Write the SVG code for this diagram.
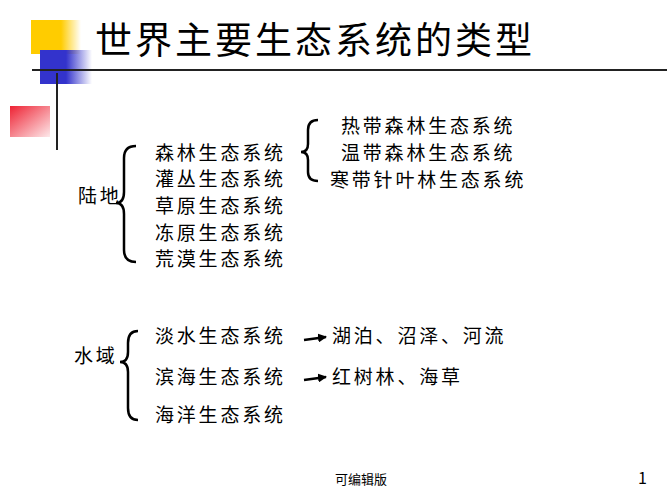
<svg xmlns="http://www.w3.org/2000/svg" width="667" height="500" viewBox="0 0 667 500">
<style>
text{font-family:"Noto Sans CJK SC","Liberation Serif",serif;fill:#000}
.t{font-size:19px;letter-spacing:2.8px}
.b{fill:none;stroke:#000;stroke-width:2.5}
</style>
<defs>
<linearGradient id="gy"><stop offset="0.6" stop-color="#ffcc00"/><stop offset="1" stop-color="#ffcc00" stop-opacity="0"/></linearGradient>
<linearGradient id="gb"><stop offset="0.5" stop-color="#3333cc"/><stop offset="1" stop-color="#3333cc" stop-opacity="0"/></linearGradient>
<linearGradient id="gr" x1="0" y1="0" x2="1" y2="1"><stop offset="0" stop-color="#ee2233"/><stop offset="1" stop-color="#ee2233" stop-opacity="0.1"/></linearGradient>
<marker id="ar" markerWidth="9" markerHeight="9" refX="8" refY="4.5" orient="auto" markerUnits="userSpaceOnUse"><path d="M0,0 L9,4.5 L0,9 Z" fill="#000"/></marker>
</defs>
<g id="deco">
<rect x="31" y="20" width="50" height="34" fill="url(#gy)"/>
<rect x="40" y="50" width="52" height="34" fill="url(#gb)"/>
<rect x="10" y="106" width="40" height="31" fill="url(#gr)"/>
<line x1="32" y1="70" x2="667" y2="70" stroke="#222" stroke-width="2"/>
<line x1="57" y1="73" x2="57" y2="150" stroke="#222" stroke-width="2"/>
</g>
<text x="95" y="54" font-size="37" letter-spacing="3">世界主要生态系统的类型</text>
<g id="land">
<text x="78" y="203" class="t" letter-spacing="1">陆地</text>
<path class="b" d="M136,146 Q124,146 124,158 L124,192 Q124,203 116,203 Q124,203 124,214 L124,250 Q124,262 136,262"/>
<text x="155" y="160" class="t">森林生态系统</text>
<text x="155" y="186" class="t">灌丛生态系统</text>
<text x="155" y="213" class="t">草原生态系统</text>
<text x="155" y="240" class="t">冻原生态系统</text>
<text x="155" y="266" class="t">荒漠生态系统</text>
</g>
<g id="forest">
<path class="b" d="M318,120 Q308,120 308,130 L308,144 Q308,152 301,152 Q308,152 308,160 L308,172 Q308,181 318,181"/>
<text x="341" y="133" class="t">热带森林生态系统</text>
<text x="341" y="160" class="t">温带森林生态系统</text>
<text x="330" y="187" class="t">寒带针叶林生态系统</text>
</g>
<g id="water">
<text x="74" y="363" class="t" letter-spacing="1">水域</text>
<path class="b" d="M138,331 Q128,331 128,343 L128,352 Q128,362 120,362 Q128,362 128,372 L128,408 Q128,420 138,420"/>
<text x="155" y="343" class="t">淡水生态系统</text>
<text x="155" y="384" class="t">滨海生态系统</text>
<text x="155" y="422" class="t">海洋生态系统</text>
<text x="332" y="343" class="t">湖泊、沼泽、河流</text>
<text x="332" y="384" class="t">红树林、海草</text>
</g>
<g id="connectors">
<line x1="304" y1="340" x2="326" y2="337" stroke="#000" stroke-width="2.5" marker-end="url(#ar)"/>
<line x1="304" y1="380" x2="326" y2="377" stroke="#000" stroke-width="2.5" marker-end="url(#ar)"/>
</g>
<text x="335" y="484" font-size="13">可编辑版</text>
<text x="638" y="484" font-size="16">1</text>
</svg>
